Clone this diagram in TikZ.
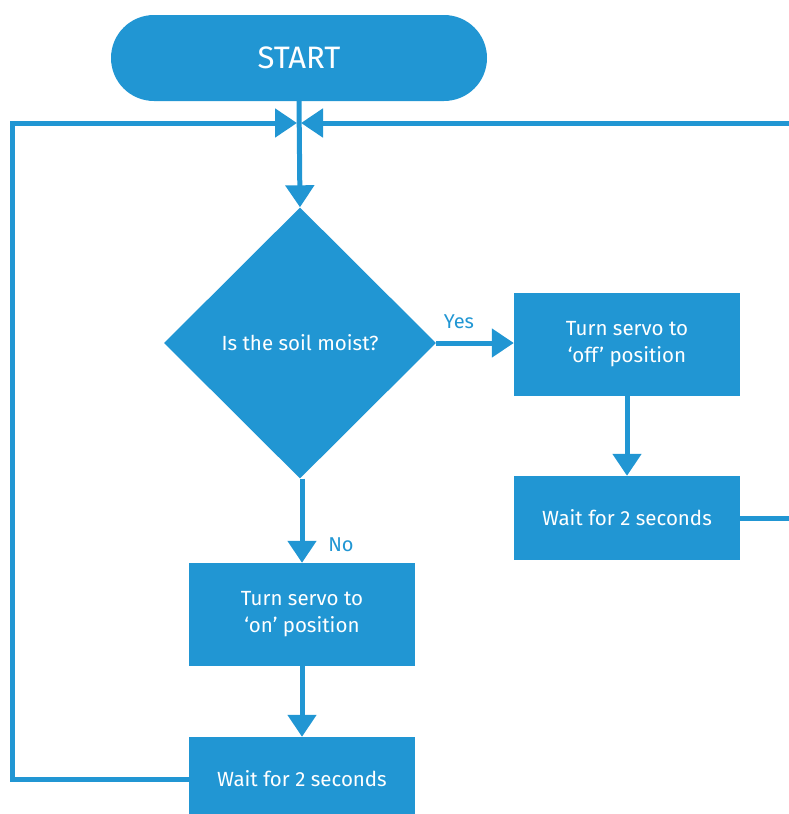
\documentclass[tikz,border=0pt]{standalone}
\usepackage{fontspec}
\setmainfont{Fira Sans}
\usetikzlibrary{shapes.geometric,arrows.meta}
\definecolor{fc}{RGB}{33,150,211}
\tikzset{
  box/.style={fill=fc, text=white, minimum width=226pt, inner sep=0pt, align=center, font=\fontsize{20.5}{27}\selectfont},
  conn/.style={draw=fc, line width=5pt},
  arr/.style={conn, -{Triangle[length=22pt,width=28pt]}},
  lbl/.style={text=fc, font=\fontsize{20}{24}\selectfont, inner sep=0pt}
}
\begin{document}
\begin{tikzpicture}[x=1pt,y=-1pt]
\useasboundingbox (0,0) rectangle (788,814);
\node[fill=fc, text=white, rounded corners=43pt, minimum width=376pt, minimum height=86pt, inner sep=0pt, font=\fontsize{31}{35}\selectfont] (start) at (299,58) {START};
\node[shape=diamond, fill=fc, text=white, minimum width=272pt, minimum height=271pt, inner sep=0pt, font=\fontsize{20.5}{24}\selectfont] (dia) at (300,343) {Is the soil moist?};
\node[box, minimum height=103pt] (off) at (627,344.5) {Turn servo to\\‘off’ position};
\node[box, minimum height=84pt] (wr) at (627,518) {Wait for 2 seconds};
\node[box, minimum height=103pt] (on) at (302,614.5) {Turn servo to\\‘on’ position};
\node[box, minimum height=84pt] (wl) at (302,779) {Wait for 2 seconds};
\node[lbl] (yes) at (459,322) {Yes};
\node[lbl] (no) at (341,545) {No};
\coordinate (j) at (299,123);
\coordinate (tl) at (12.5,123);
\coordinate (bl) at (12.5,779);
\coordinate (tr) at (795,123);
\coordinate (br) at (795,518);
\draw[arr] (start.south) -- (dia.north);
\draw[arr] (dia.east) -- (off.west |- dia.east);
\draw[arr] (off.south) -- (wr.north);
\draw[arr] (dia.south -| on.north) -- (on.north);
\draw[arr] (on.south) -- (wl.north);
\draw[arr] (wl.west |- bl) -- (bl) -- (tl) -- ([xshift=-2pt]j);
\draw[arr] (wr.east) -- (br) -- (tr) -- ([xshift=2pt]j);
\end{tikzpicture}
\end{document}
